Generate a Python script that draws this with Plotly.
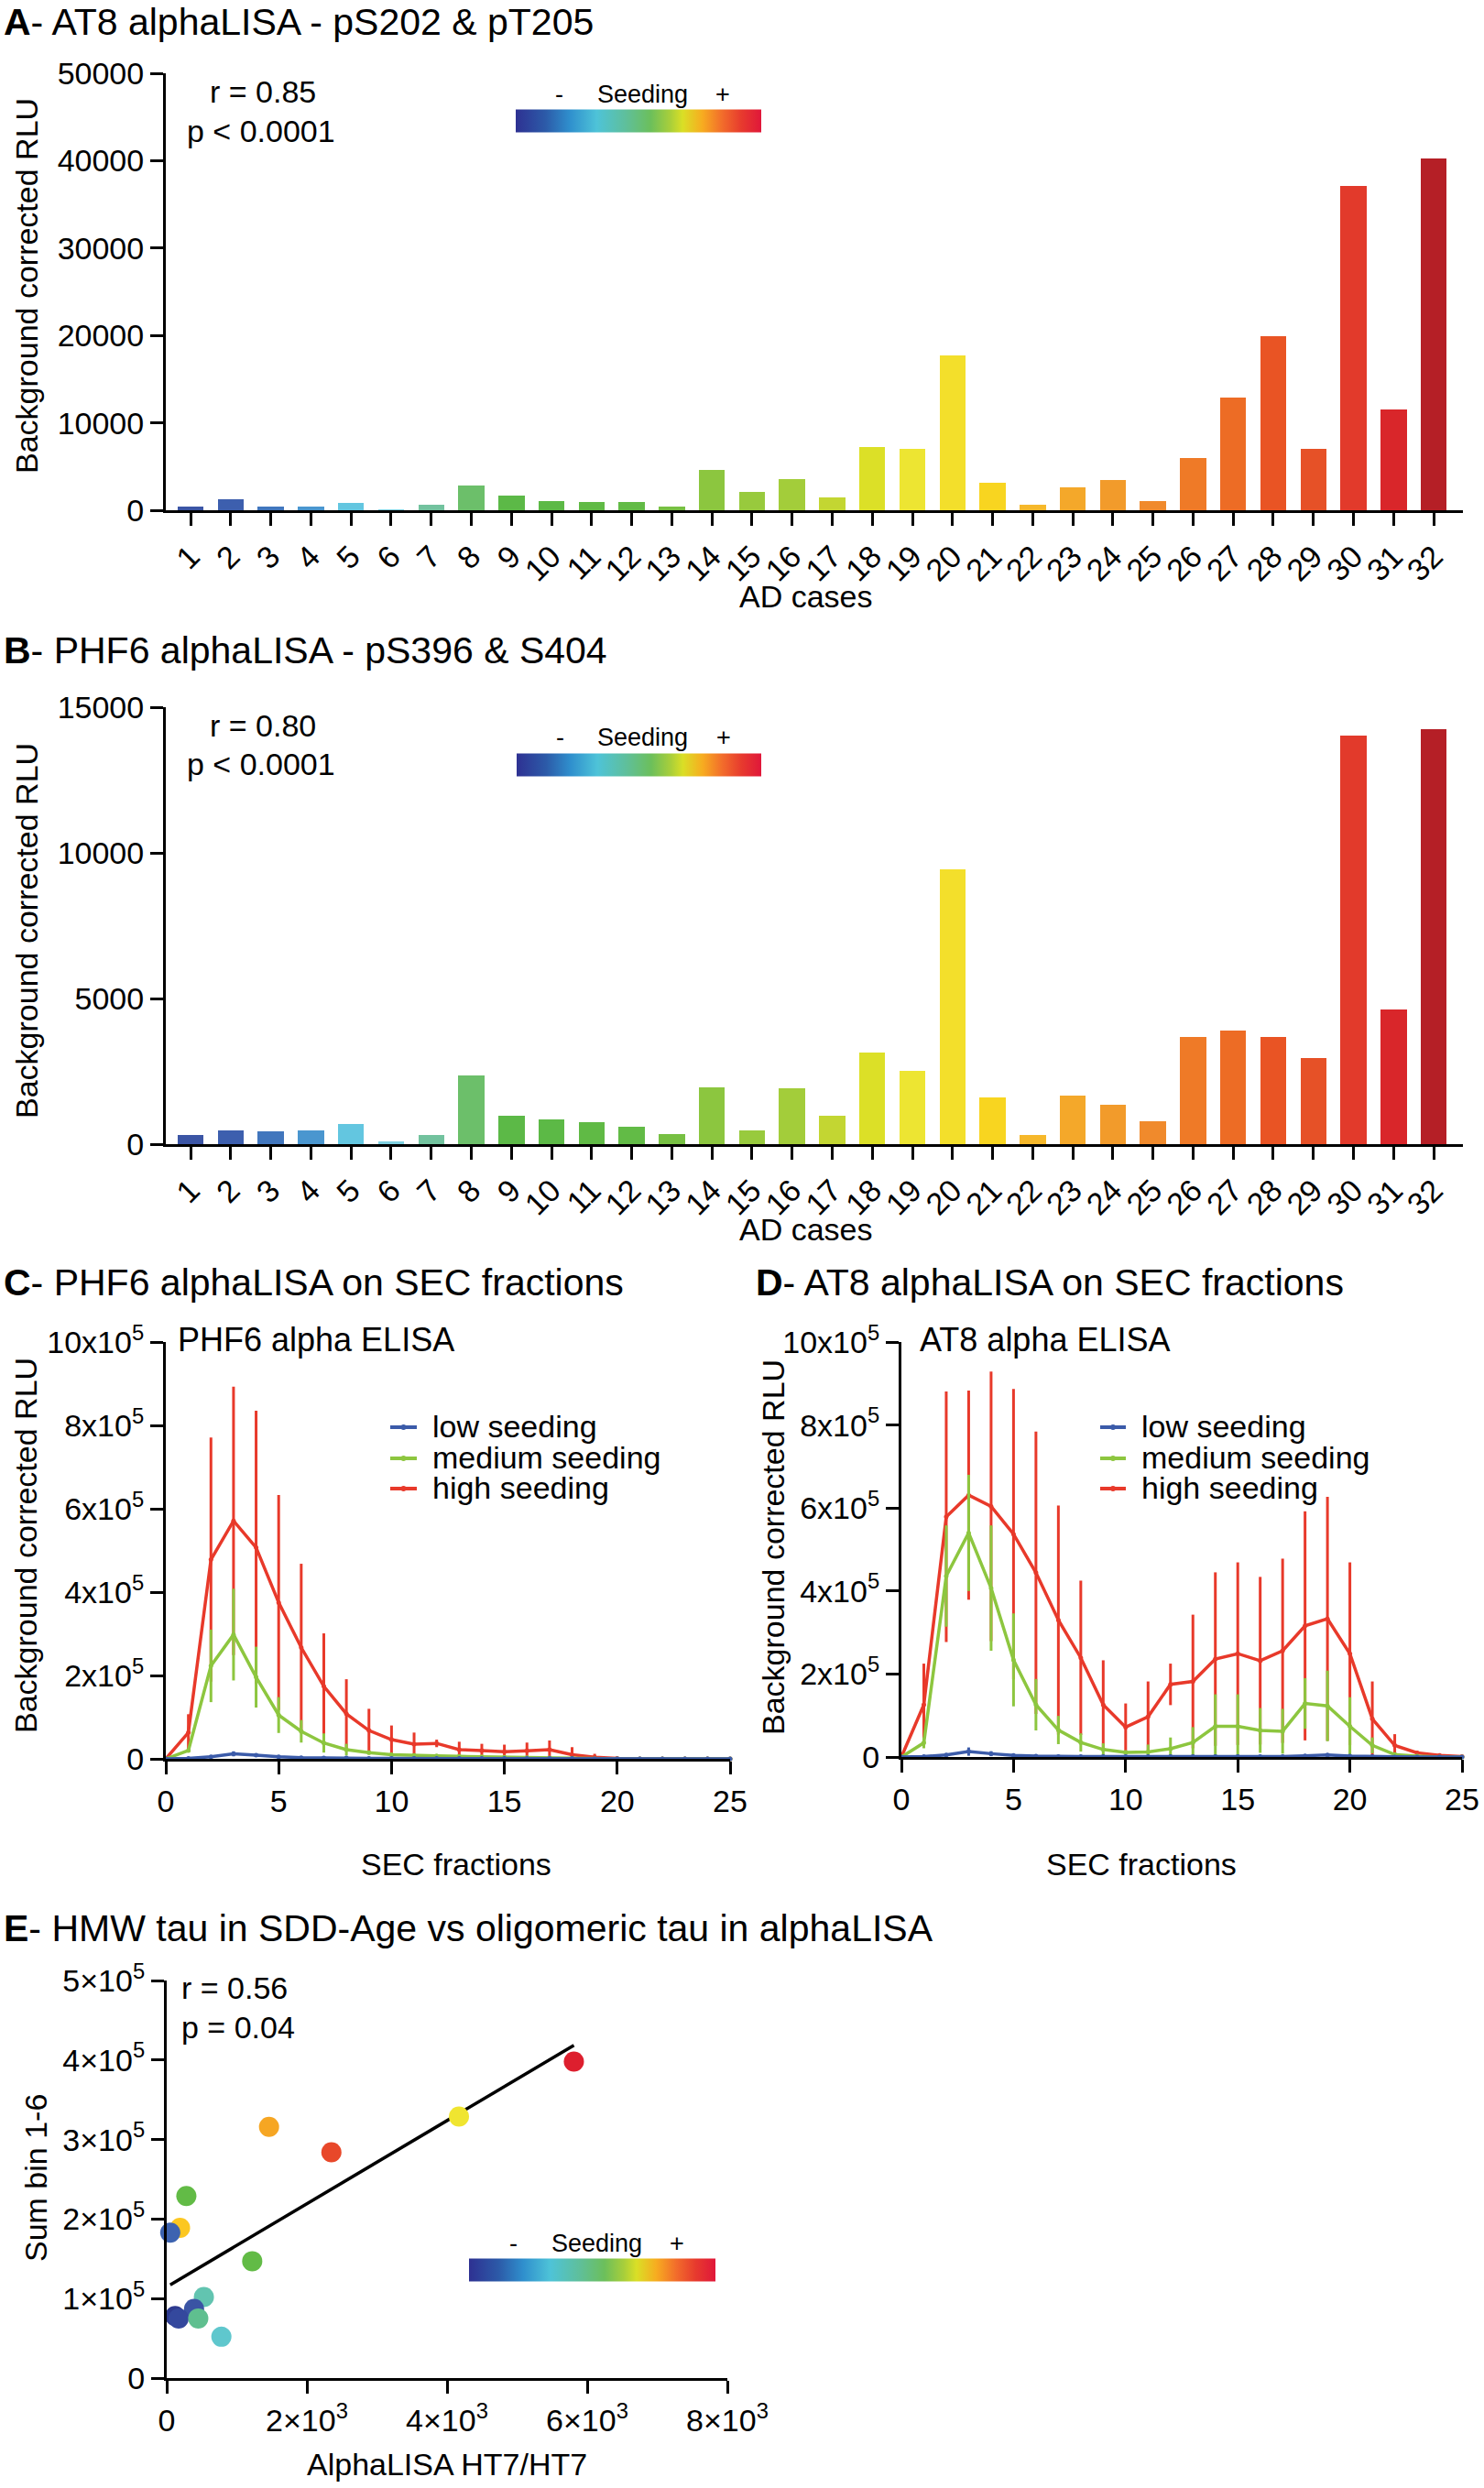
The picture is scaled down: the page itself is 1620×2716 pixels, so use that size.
import numpy as np
import plotly.graph_objects as go

W, H = 1620, 2716
FONT = "Liberation Sans"

# ---------------- data ----------------
cases = list(range(1, 33))
at8_rlu = [450, 1300, 450, 450, 800, 30, 600, 2800, 1700, 1100, 900, 950, 450, 4600, 2100, 3600,
           1450, 7200, 7000, 17700, 3100, 600, 2600, 3500, 1100, 6000, 12900, 19900, 7000, 37100,
           11500, 40300]
phf6_rlu = [320, 480, 430, 470, 700, 80, 300, 2350, 980, 850, 760, 600, 360, 1940, 460, 1910,
            960, 3160, 2530, 9430, 1600, 320, 1680, 1340, 800, 3680, 3890, 3670, 2950, 14030,
            4610, 14240]

sec_fractions = list(range(0, 26))
# values in units of 1e5 RLU
c_high = [0, 0.63, 4.78, 5.71, 5.07, 3.75, 2.67, 1.74, 1.08, 0.68, 0.46, 0.35, 0.37, 0.22, 0.20,
          0.17, 0.19, 0.22, 0.10, 0.04, 0.01, 0, 0, 0, 0, 0]
c_high_err = [0, 0.44, 2.93, 3.22, 3.28, 2.58, 2.01, 1.27, 0.83, 0.52, 0.34, 0.28, 0.09, 0.19,
              0.16, 0.17, 0.20, 0.22, 0.18, 0.08, 0, 0, 0, 0, 0, 0]
c_med = [0, 0.20, 2.23, 2.98, 1.96, 1.05, 0.66, 0.38, 0.22, 0.15, 0.10, 0.08, 0.07, 0.06, 0.05,
         0.04, 0.03, 0.02, 0.01, 0, 0, 0, 0, 0, 0, 0]
c_med_err = [0, 0.03, 0.87, 1.10, 0.73, 0.43, 0.27, 0.23, 0.14, 0.05, 0.03, 0.02, 0.02, 0.01,
             0.01, 0.01, 0, 0, 0, 0, 0, 0, 0, 0, 0, 0]
c_low = [0, 0.01, 0.05, 0.12, 0.09, 0.05, 0.03, 0.02, 0.02, 0.01, 0.01, 0.01, 0.01, 0.01, 0.01,
         0.01, 0.01, 0.01, 0.01, 0, 0, 0, 0, 0, 0, 0]
c_low_err = [0, 0, 0.03, 0.06, 0.04, 0.02, 0.01, 0, 0, 0, 0, 0, 0, 0, 0, 0, 0, 0, 0, 0, 0, 0, 0,
             0, 0, 0]

d_high = [0, 1.26, 5.79, 6.31, 6.04, 5.37, 4.44, 3.30, 2.39, 1.26, 0.72, 0.97, 1.75, 1.82, 2.36,
          2.49, 2.32, 2.56, 3.16, 3.33, 2.49, 0.92, 0.28, 0.10, 0.04, 0.01]
d_high_err = [0, 0.99, 3.02, 2.52, 3.25, 3.50, 3.40, 2.76, 1.86, 1.07, 0.57, 0.85, 0.50, 1.61,
              2.09, 2.20, 2.02, 2.22, 2.76, 2.94, 2.20, 0.90, 0.27, 0.04, 0.01, 0]
d_med = [0, 0.34, 4.36, 5.40, 4.07, 2.34, 1.26, 0.65, 0.35, 0.18, 0.11, 0.12, 0.20, 0.35, 0.74,
         0.74, 0.64, 0.62, 1.29, 1.23, 0.74, 0.28, 0.06, 0.02, 0, 0]
d_med_err = [0, 0.13, 1.22, 1.40, 1.51, 1.12, 0.62, 0.34, 0.22, 0.15, 0.05, 0.18, 0.27, 0.37,
             0.77, 0.77, 0.54, 0.54, 0.61, 0.85, 0.70, 0.19, 0.03, 0, 0, 0]
d_low = [0, 0.01, 0.05, 0.13, 0.08, 0.04, 0.02, 0.01, 0.01, 0.01, 0.01, 0.01, 0.01, 0.01, 0.01,
         0.01, 0.01, 0.01, 0.03, 0.05, 0.02, 0.01, 0, 0, 0, 0]
d_low_err = [0, 0, 0.04, 0.10, 0.06, 0.02, 0.01, 0, 0, 0, 0, 0, 0, 0, 0, 0, 0, 0, 0.02, 0.03,
             0.01, 0, 0, 0, 0, 0]

seeding_groups = ["low seeding", "medium seeding", "high seeding"]

alphalisa_ht7 = [5810, 4170, 1460, 2350, 280, 190, 50, 1220, 530, 390, 120, 170, 450, 780]
sum_bin_1_6 = [398000, 329000, 316000, 284000, 229000, 189000, 183000, 147000, 102000, 87000,
               78000, 75000, 75000, 52000]

# ---------------- styles ----------------
BAR_COLORS = ["#3b55a5", "#3d5fae", "#4176bd", "#4a96cf", "#63c6e0", "#7fd0e0", "#72c29e",
              "#6cbf6a", "#5cb947", "#5cb946", "#60ba45", "#62bb46", "#77c043", "#8cc63f",
              "#98ca3d", "#a3cd3a", "#c3d632", "#dce027", "#ede532", "#f3df2b", "#f8d520",
              "#f6b82b", "#f4a82a", "#f29b2b", "#f08a2c", "#ef7a27", "#ed6c25", "#e95424",
              "#e65127", "#e23a2b", "#d9262a", "#b51f26"]
E_COLORS = ["#dd1f2e", "#f0e530", "#f6a623", "#e8482a", "#62bb46", "#fcc721", "#3d63b0",
            "#62bb46", "#62c4b0", "#3a54a4", "#2e3a8f", "#34489d", "#5fbf8f", "#5fc7cd"]
SEED_SCALE = [[0, "#2e3192"], [0.12, "#2c5aa8"], [0.22, "#2f8fcd"], [0.33, "#4ec3d8"],
              [0.45, "#5fbf9a"], [0.55, "#6cbf5b"], [0.63, "#a9cf3a"], [0.68, "#dadf26"],
              [0.76, "#f7ac20"], [0.84, "#f26d2b"], [0.92, "#e73a2e"], [1, "#e0173a"]]
RED, GREEN, BLUE = "#e8392a", "#8dc63f", "#3b5ba9"
GROUP_COLORS = {"low seeding": BLUE, "medium seeding": GREEN, "high seeding": RED}

TICK = 34
LABEL = 34
TITLE = 41


def fx(p):
    return p / W


def fy(p):
    return 1 - p / H


fig = go.Figure()

# Panel A / B bars
fig.add_trace(go.Bar(x=cases, y=at8_rlu, marker=dict(color=BAR_COLORS, line=dict(width=0)),
                     width=0.65, xaxis="x", yaxis="y", showlegend=False,
                     name="AT8 alphaLISA"))
fig.add_trace(go.Bar(x=cases, y=phf6_rlu, marker=dict(color=BAR_COLORS, line=dict(width=0)),
                     width=0.65, xaxis="x2", yaxis="y2", showlegend=False,
                     name="PHF6 alphaLISA"))

# colorbar holders
for i, (xa, ya) in enumerate([("x", "y"), ("x2", "y2"), ("x5", "y5")]):
    ca = "coloraxis" if i == 0 else f"coloraxis{i + 1}"
    fig.add_trace(go.Scatter(x=[None], y=[None], mode="markers",
                             marker=dict(color=[0.5], coloraxis=ca),
                             xaxis=xa, yaxis=ya, showlegend=False, hoverinfo="skip"))


# Panels C / D lines (drawn high -> medium -> low so that low is on top)
def add_sec(xa, ya, series):
    for name, mean, err in series:
        col = GROUP_COLORS[name]
        fig.add_trace(go.Scatter(
            x=sec_fractions, y=np.array(mean) * 1e5, name=name, mode="lines+markers",
            line=dict(color=col, width=3.5), marker=dict(color=col, size=5),
            error_y=dict(type="data", array=np.array(err) * 1e5, symmetric=True, color=col,
                         thickness=3, width=0),
            xaxis=xa, yaxis=ya, showlegend=False, cliponaxis=False))


add_sec("x3", "y3", [("high seeding", c_high, c_high_err),
                     ("medium seeding", c_med, c_med_err),
                     ("low seeding", c_low, c_low_err)])
add_sec("x4", "y4", [("high seeding", d_high, d_high_err),
                     ("medium seeding", d_med, d_med_err),
                     ("low seeding", d_low, d_low_err)])

# Panel E
slope, intercept = np.polyfit(alphalisa_ht7, sum_bin_1_6, 1)
fit_x = np.array([min(alphalisa_ht7), max(alphalisa_ht7)])
fig.add_trace(go.Scatter(x=fit_x, y=slope * fit_x + intercept, mode="lines",
                         line=dict(color="black", width=3.5), xaxis="x5", yaxis="y5",
                         showlegend=False, name="linear fit"))
fig.add_trace(go.Scatter(x=alphalisa_ht7, y=sum_bin_1_6, mode="markers",
                         marker=dict(color=E_COLORS, size=22, line=dict(width=0)),
                         xaxis="x5", yaxis="y5", showlegend=False, cliponaxis=False,
                         name="cases"))

# ---------------- axes ----------------
tickfont = dict(family=FONT, size=TICK, color="black")
ax = dict(showline=True, linecolor="black", linewidth=3, ticks="outside", ticklen=14,
          tickwidth=3, tickcolor="black", showgrid=False, zeroline=False, tickfont=tickfont,
          fixedrange=True, automargin=False)

sup5 = ["0", "2x10<sup>5</sup>", "4x10<sup>5</sup>", "6x10<sup>5</sup>", "8x10<sup>5</sup>",
        "10x10<sup>5</sup>"]

fig.update_layout(
    xaxis=dict(ax, domain=[fx(181), fx(1597)], range=[0.38, 32.73], tickvals=cases,
               tickangle=-45, anchor="y"),
    yaxis=dict(ax, domain=[fy(557), fy(80)], range=[0, 50000], tickformat="d",
               tickvals=[0, 10000, 20000, 30000, 40000, 50000], anchor="x"),
    xaxis2=dict(ax, domain=[fx(181), fx(1597)], range=[0.38, 32.73], tickvals=cases,
                tickangle=-45, anchor="y2"),
    yaxis2=dict(ax, domain=[fy(1249), fy(772)], range=[0, 15000], tickformat="d",
                tickvals=[0, 5000, 10000, 15000], anchor="x2"),
    xaxis3=dict(ax, domain=[fx(181), fx(797)], range=[0, 25], tickvals=[0, 5, 10, 15, 20, 25],
                anchor="y3"),
    yaxis3=dict(ax, domain=[fy(1920), fy(1465)], range=[0, 1e6],
                tickvals=[0, 2e5, 4e5, 6e5, 8e5, 1e6], ticktext=sup5, anchor="x3"),
    xaxis4=dict(ax, domain=[fx(984), fx(1596)], range=[0, 25], tickvals=[0, 5, 10, 15, 20, 25],
                anchor="y4"),
    yaxis4=dict(ax, domain=[fy(1918), fy(1465)], range=[0, 1e6],
                tickvals=[0, 2e5, 4e5, 6e5, 8e5, 1e6], ticktext=sup5, anchor="x4"),
    xaxis5=dict(ax, domain=[fx(182), fx(794)], range=[0, 8000],
                tickvals=[0, 2000, 4000, 6000, 8000],
                ticktext=["0", "2×10<sup>3</sup>", "4×10<sup>3</sup>", "6×10<sup>3</sup>",
                          "8×10<sup>3</sup>"], anchor="y5"),
    yaxis5=dict(ax, domain=[fy(2596), fy(2162)], range=[0, 5e5],
                tickvals=[0, 1e5, 2e5, 3e5, 4e5, 5e5],
                ticktext=["0", "1×10<sup>5</sup>", "2×10<sup>5</sup>", "3×10<sup>5</sup>",
                          "4×10<sup>5</sup>", "5×10<sup>5</sup>"], anchor="x5"),
)


# ---------------- colorbars ----------------
def cbar(xc, yc, length):
    return dict(colorscale=SEED_SCALE, cmin=0, cmax=1,
                colorbar=dict(orientation="h", x=fx(xc), xanchor="center", y=fy(yc),
                              yanchor="middle", len=length, lenmode="pixels", thickness=25,
                              thicknessmode="pixels", showticklabels=False, ticks="",
                              outlinewidth=0, xpad=0, ypad=0))


fig.update_layout(coloraxis=cbar(697, 131.5, 268), coloraxis2=cbar(697, 834.5, 267),
                  coloraxis3=cbar(646.5, 2477.5, 269))

# ---------------- annotations ----------------
ann = []
shapes = []


def text(t, x, y, size=LABEL, xanchor="center", yanchor="middle", angle=0):
    ann.append(dict(text=t, x=fx(x), y=fy(y), xref="paper", yref="paper", showarrow=False,
                    xanchor=xanchor, yanchor=yanchor, textangle=angle,
                    font=dict(family=FONT, size=size, color="black")))


# titles
text("<b>A</b>- AT8 alphaLISA - pS202 & pT205", 2, 24, TITLE, "left")
text("<b>B</b>- PHF6 alphaLISA - pS396 & S404", 2, 710, TITLE, "left")
text("<b>C</b>- PHF6 alphaLISA on SEC fractions", 2, 1400, TITLE, "left")
text("<b>D</b>- AT8 alphaLISA on SEC fractions", 823, 1400, TITLE, "left")
text("<b>E</b>- HMW tau in SDD-Age vs oligomeric tau in alphaLISA", 2, 2105, TITLE, "left")

# axis titles
text("Background corrected RLU", 29, 312, LABEL, angle=-90)
text("AD cases", 880, 651, LABEL)
text("Background corrected RLU", 29, 1016, LABEL, angle=-90)
text("AD cases", 880, 1342, LABEL)
text("Background corrected RLU", 28, 1687, LABEL, angle=-90)
text("SEC fractions", 498, 2035, LABEL)
text("Background corrected RLU", 844, 1689, LABEL, angle=-90)
text("SEC fractions", 1246, 2035, LABEL)
text("Sum bin 1-6", 39, 2378, LABEL, angle=-90)
text("AlphaLISA HT7/HT7", 488, 2690, LABEL)

# subtitles
text("PHF6 alpha ELISA", 192, 1462, 36, "left")
text("AT8 alpha ELISA", 1002, 1462, 36, "left")

# statistics
text("r = 0.85", 287, 100, LABEL)
text("p < 0.0001", 285, 143, LABEL)
text("r = 0.80", 287, 792, LABEL)
text("p < 0.0001", 285, 834, LABEL)
text("r = 0.56", 196, 2170, LABEL, "left")
text("p = 0.04", 196, 2213, LABEL, "left")

# seeding colorbar labels
for (xm, xs, xp, yy) in [(610, 701, 789, 103), (611, 701, 790, 805), (560, 651, 739, 2449)]:
    text("-", xm, yy, 27)
    text("Seeding", xs, yy, 27)
    text("+", xp, yy, 27)

# legends for C and D
for (x0, x1, xt) in [(426, 455, 470), (1201, 1229, 1244)]:
    for name, yy in zip(seeding_groups, [1557, 1591, 1624]):
        col = GROUP_COLORS[name]
        shapes.append(dict(type="line", xref="paper", yref="paper", x0=fx(x0), x1=fx(x1),
                           y0=fy(yy + 1), y1=fy(yy + 1), line=dict(color=col, width=4)))
        xc = (x0 + x1) / 2
        shapes.append(dict(type="circle", xref="paper", yref="paper", x0=fx(xc - 3),
                           x1=fx(xc + 3), y0=fy(yy + 4), y1=fy(yy - 2), fillcolor=col,
                           line=dict(width=0)))
        text(name, xt, yy, LABEL, "left")

fig.update_layout(annotations=ann, shapes=shapes, width=W, height=H,
                  margin=dict(l=0, r=0, t=0, b=0, autoexpand=False),
                  paper_bgcolor="white", plot_bgcolor="white", bargap=0, showlegend=False,
                  font=dict(family=FONT, color="black"))

fig.write_html("out.html", config={"displayModeBar": False},
               post_script="document.body.style.margin='0px';"
                           "document.body.style.overflow='hidden';")
